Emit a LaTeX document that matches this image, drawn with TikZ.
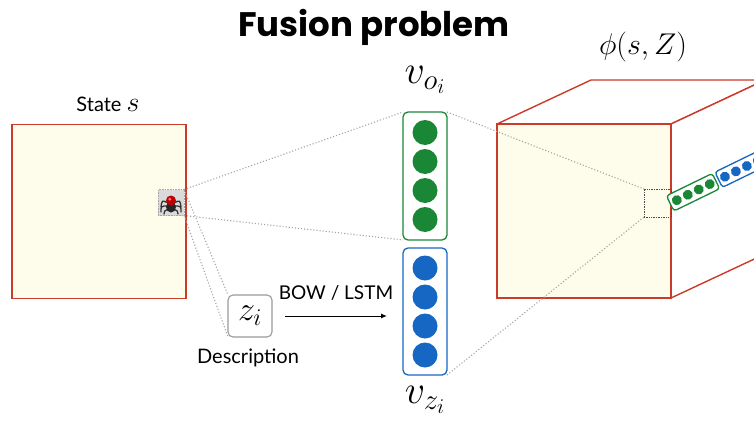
\RequirePackage{fix-cm}
\documentclass[tikz,border=0pt]{standalone}
\usepackage{fontspec}
\newfontfamily\titlefont{Poppins}
\newfontfamily\labelfont{Lato}
\usetikzlibrary{arrows.meta}

% math sizes for the large symbol labels
\DeclareMathSizes{40}{40}{29}{21}
\DeclareMathSizes{34}{34}{24}{18}
\DeclareMathSizes{30}{30}{21}{15}
\DeclareMathSizes{28}{28}{20}{14}

\definecolor{edgered}{RGB}{204,58,42}
\definecolor{cream}{RGB}{254,252,234}
\definecolor{vgreen}{RGB}{26,135,55}
\definecolor{vblue}{RGB}{22,102,196}
\definecolor{linkgray}{RGB}{165,165,165}
\definecolor{iconbg}{RGB}{218,218,218}

\tikzset{
  gridface/.style={draw=edgered, line width=1.4pt, fill=cream,
    minimum width=174pt, minimum height=174pt, inner sep=0pt, outer sep=0pt},
  sideface/.style={draw=edgered, line width=1.4pt, fill=white, line join=round},
  vecbox/.style={draw=#1, line width=1.3pt, rounded corners=5pt,
    minimum width=44pt, inner sep=0pt, outer sep=0pt},
  unit/.style={fill=#1, draw=none},
  link/.style={draw=linkgray, line width=1.1pt, dotted},
  cellbox/.style={draw=black!70, line width=0.7pt, densely dotted,
    minimum width=27pt, minimum height=28pt, inner sep=0pt, outer sep=0pt},
  wordbox/.style={draw=gray!80, line width=1.1pt, rounded corners=5pt,
    minimum width=44pt, minimum height=42pt, inner sep=0pt, outer sep=0pt},
  caption/.style={font=\labelfont\fontsize{20}{24}\selectfont, inner sep=0pt},
}

\begin{document}
\begin{tikzpicture}[x=1pt, y=-1pt]
  \useasboundingbox (0,0) rectangle (754,420);
  \clip (0,0) rectangle (754,420);

  % title
  \node[anchor=base, inner sep=0pt,
        font=\titlefont\bfseries\fontsize{34}{40}\selectfont] (title) at (374,37) {Fusion problem};

  % input state grid with the object cell
  \node[gridface] (state) at (99,211.5) {};
  \node[caption, anchor=base] (statelbl) at (108,111) {State {\fontsize{28}{32}\selectfont$s$}};
  \node[draw=gray!70, densely dotted, fill=iconbg, line width=0.6pt,
        minimum width=26pt, minimum height=26pt, inner sep=0pt, outer sep=0pt] (obj) at (171,202.5) {};
  % spider glyph inside the object cell
  \begin{scope}[shift={(171,203)}]
    \draw[black!80, line width=1.3pt, line cap=round]
      (-3,0) .. controls (-9,-3) .. (-10,4)
      (-3,3) .. controls (-10,3) .. (-10,9)
      (-2,6) .. controls (-7,8) .. (-7,11)
      (3,0) .. controls (9,-3) .. (10,4)
      (3,3) .. controls (10,3) .. (10,9)
      (2,6) .. controls (7,8) .. (7,11);
    \fill[black!85] (0,4) ellipse (5pt and 5.5pt);
    \fill[red!75!black] (0,-2.5) circle (5pt);
    \fill[red!50!white] (-1.2,-3.8) circle (1.6pt);
  \end{scope}

  % word of the description
  \node[wordbox] (zi) at (250,316) {\fontsize{34}{38}\selectfont$z_i$};
  \node[caption, anchor=base] (desc) at (248,363) {Description};

  % object and word embeddings
  \node[vecbox=vgreen, minimum height=128pt] (vo) at (425,176) {};
  \node[vecbox=vblue, minimum height=127pt] (vz) at (425,311.5) {};
  \foreach \cy in {132.5,161.5,190.5,219.5}
    \fill[unit=vgreen] (425,\cy) circle (12.5pt);
  \foreach \cy in {268,297,326,355}
    \fill[unit=vblue] (425,\cy) circle (12.5pt);
  \node[inner sep=0pt] (volbl) at (425,80) {\fontsize{40}{44}\selectfont$v_{o_i}$};
  \node[inner sep=0pt] (vzlbl) at (425,400) {\fontsize{40}{44}\selectfont$v_{z_i}$};

  % encoder arrow
  \draw[line width=1pt, -{Latex[length=6pt,width=5pt]}, shorten <=13pt, shorten >=16pt]
    (zi.east) -- (zi.east -| vz.west);
  \node[inner sep=0pt, font=\labelfont\fontsize{19}{22}\selectfont] (enc) at (336,293) {BOW / LSTM};

  % fused feature volume
  \coordinate (ftl) at (497,124);
  \coordinate (ftr) at (671,124);
  \coordinate (fbr) at (671,298);
  \draw[sideface] (ftl) -- ++(94,-44) -- ++(174,0) -- (ftr) -- cycle;
  \draw[sideface] (ftr) -- ++(94,-44) -- ++(0,174) -- (fbr) -- cycle;
  \node[gridface] (fused) at (584,211) {};
  \node[inner sep=0pt] (philbl) at (643,47) {\fontsize{30}{34}\selectfont$\phi(s,Z)$};
  \node[cellbox] (cell) at (657.5,203) {};

  % projection links
  \draw[link] (obj.north east) -- (vo.north west);
  \draw[link] (obj.south east) -- (vo.south west);
  \draw[link] (obj.north east) -- (zi.north west);
  \draw[link] (obj.south east) -- (zi.south west);
  \draw[link] (vo.north east) -- (cell.north west);
  \draw[link] (vz.south east) -- (cell.south west);

  % concatenated vector running through the volume
  \begin{scope}[shift={(671,203)}, rotate=26]
    \draw[draw=vgreen, line width=1.3pt, rounded corners=3pt, fill=white] (-1,-8.5) rectangle (50,8.5);
    \foreach \k in {0,1,2,3}
      \fill[unit=vgreen] (6.5+12.2*\k,0) circle (5pt);
    \draw[draw=vblue, line width=1.3pt, rounded corners=3pt, fill=white] (53,-8.5) rectangle (115,8.5);
    \foreach \k in {0,...,4}
      \fill[unit=vblue] (60+12.2*\k,0) circle (5pt);
  \end{scope}
\end{tikzpicture}
\end{document}
